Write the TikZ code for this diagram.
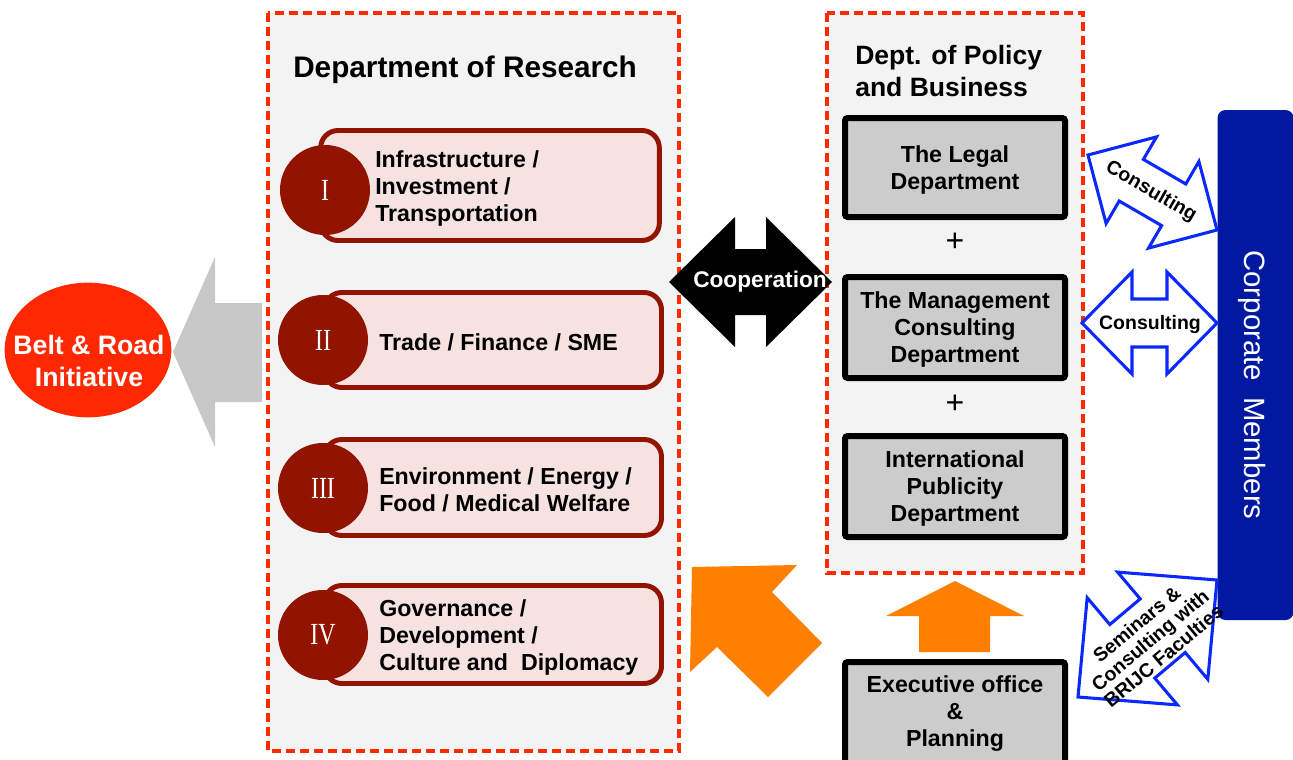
\documentclass[tikz,border=0pt]{standalone}
\usepackage{fontspec}
\usetikzlibrary{shapes.geometric}
\setmainfont{Liberation Sans}
\newfontfamily\romanfont{Liberation Serif}
\definecolor{reddash}{RGB}{255,42,0}
\definecolor{panel}{RGB}{243,243,243}
\definecolor{darkred}{RGB}{146,20,0}
\definecolor{pinkfill}{RGB}{245,226,225}
\definecolor{boxgray}{RGB}{204,204,204}
\definecolor{corpblue}{RGB}{0,25,160}
\definecolor{lineblue}{RGB}{10,40,255}
\definecolor{orangefill}{RGB}{255,128,0}
\definecolor{arrowgray}{RGB}{200,200,200}
\definecolor{beltred}{RGB}{255,40,0}
\newcommand{\romnum}[1]{\scalebox{0.78}[1]{#1}}
\tikzset{
  deptpanel/.style={draw=reddash, fill=panel, line width=2.4pt, dash pattern=on 6.5pt off 4pt},
  pinkbox/.style={draw=darkred, fill=pinkfill, line width=3.7pt, rounded corners=13pt, inner sep=0pt},
  numcircle/.style={circle, fill=darkred, minimum size=67.5pt, inner sep=0pt, text=white, font=\romanfont\fontsize{23}{23}\selectfont},
  bodytext/.style={font=\bfseries\fontsize{17.4}{20.3}\selectfont, inner sep=0pt},
  graybox/.style={draw=black, fill=boxgray, line width=4.5pt, rounded corners=2pt, minimum width=165pt, inner sep=0pt, align=center, text depth=0pt, font=\bfseries\fontsize{17.4}{20.3}\selectfont},
  bluearrow/.style={draw=lineblue, fill=white, line width=2.3pt, line join=miter},
  arrowlabel/.style={font=\bfseries\fontsize{14.6}{15.5}\selectfont, inner sep=0pt, align=center},
}
\begin{document}
\begin{tikzpicture}[x=0.75pt,y=-0.75pt]
\clip (0,0) rectangle (1293,760);
\fill[white] (0,0) rectangle (1293,760);

% panels
\draw[deptpanel] (268,13) rectangle (679,751);
\draw[deptpanel] (827,13) rectangle (1083,573);

\node[font=\bfseries\fontsize{22.3}{26}\selectfont, anchor=west, inner sep=0pt] (restitle) at (293,70) {Department of Research};
\node[font=\bfseries\fontsize{19.9}{23.3}\selectfont, anchor=west, align=left, inner sep=0pt] (poltitle) at (855,71) {Dept. of Policy\\and Business};

% research boxes
\node[pinkbox, minimum width=254pt, minimum height=82.5pt] (b1) at (490,185.5) {};
\node[numcircle] (c1) at (325,190) {\romnum{I}};
\node[bodytext, anchor=west, align=left] (t1) at (375,188.5) {Infrastructure /\\Investment /\\Transportation};

\node[pinkbox, minimum width=252.75pt, minimum height=71.25pt] (b2) at (493,340) {};
\node[numcircle] (c2) at (323,340) {\romnum{II}};
\node[bodytext, anchor=west, align=left] (t2) at (379,342) {Trade / Finance / SME};

\node[pinkbox, minimum width=252.75pt, minimum height=72pt] (b3) at (493,487.5) {};
\node[numcircle] (c3) at (323,488) {\romnum{III}};
\node[bodytext, anchor=west, align=left] (t3) at (379,490) {Environment / Energy /\\Food / Medical Welfare};

\node[pinkbox, minimum width=252.75pt, minimum height=73.5pt] (b4) at (493,634.5) {};
\node[numcircle] (c4) at (323,635) {\romnum{IV}};
\node[bodytext, anchor=west, align=left] (t4) at (379,637.5) {Governance /\\Development /\\Culture and\ \ Diplomacy};

% policy boxes
\node[graybox, minimum height=74.25pt] (legal) at (955,167.5) {The Legal\\Department};
\node[font=\fontsize{24}{24}\selectfont, inner sep=0pt] (plus1) at (955,242) {+};
\node[graybox, minimum height=75.75pt] (mgmt) at (955,327.5) {The Management\\Consulting\\Department};
\node[font=\fontsize{24}{24}\selectfont, inner sep=0pt] (plus2) at (955,404) {+};
\node[graybox, minimum height=75.75pt] (intl) at (955,486.5) {International\\Publicity\\Department};
\node[graybox, minimum height=90pt, anchor=north] (exec) at (955,659) {};
\node[bodytext, align=center] (exectext) at (955,713.5) {Executive office\\\&\\Planning};

% corporate members
\node[fill=corpblue, rounded corners=6pt, minimum width=57pt, minimum height=382.5pt, inner sep=0pt] (corp) at (1255.5,365) {};
\node[rotate=-90, text=white, font=\fontsize{22}{22}\selectfont, inner sep=0pt] (corptext) at (1252,385) {Corporate\ \ Members};

% belt & road
\node[ellipse, fill=beltred, minimum width=125pt, minimum height=101pt, inner sep=0pt] (belt) at (88,350) {};
\node[text=white, font=\bfseries\fontsize{20}{24}\selectfont, align=center, inner sep=0pt] (belttext) at (89,361) {Belt \& Road\\Initiative};

% gray arrow to belt & road
\fill[arrowgray] (173,352) -- (215,447) -- (215,402) -- (262,402) -- (262,303) -- (215,303) -- (215,257) -- cycle;

% cooperation double arrow
\fill[black] (669,282) -- (735,347) -- (735,315) -- (766,315) -- (766,347) -- (832,282) -- (766,217) -- (766,249) -- (735,249) -- (735,217) -- cycle;
\node[text=white, font=\bfseries\fontsize{17}{17}\selectfont, inner sep=0pt] (coop) at (760,282) {Cooperation};

% consulting diagonal arrow
\draw[bluearrow] (1088,155) -- (1106.1,223.5) -- (1119.2,201.0) -- (1161.6,225.6) -- (1148.5,248.1) -- (1217,230) -- (1198.9,161.5) -- (1185.8,184.0) -- (1143.4,159.4) -- (1156.5,136.9) -- cycle;
\node[arrowlabel, rotate=-30] (cons1) at (1151,192) {Consulting};

% consulting horizontal arrow
\draw[bluearrow] (1082,323) -- (1132,374) -- (1132,347) -- (1167,347) -- (1167,374) -- (1217,323) -- (1167,272) -- (1167,299) -- (1132,299) -- (1132,272) -- cycle;
\node[arrowlabel] (cons2) at (1150,325) {Consulting};

% seminars arrow
\draw[bluearrow] (1078,697) -- (1177.4,704.9) -- (1154.8,678.1) -- (1185.2,652.5) -- (1207.8,679.3) -- (1217,580) -- (1117.6,572.1) -- (1140.2,598.9) -- (1109.8,624.5) -- (1087.2,597.7) -- cycle;
\node[arrowlabel, rotate=40, font=\bfseries\fontsize{14.6}{15.6}\selectfont] (sem) at (1150,640) {Seminars \&\\Consulting with\\BRIJC Faculties};

% orange arrows
\fill[orangefill] (692,567) -- (797,565) -- (772,592) -- (822,643) -- (768,697) -- (717,647) -- (690,672) -- cycle;
\fill[orangefill] (955,581) -- (1024,616) -- (990,616) -- (990,652) -- (919,652) -- (919,616) -- (886,616) -- cycle;
\end{tikzpicture}
\end{document}
